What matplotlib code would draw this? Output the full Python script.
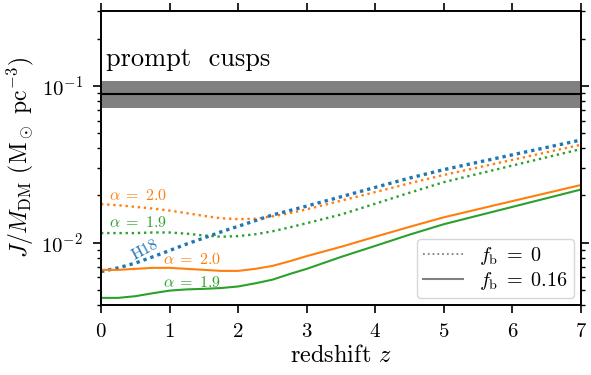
import numpy as np
import matplotlib
matplotlib.use("Agg")
import matplotlib.pyplot as plt
from matplotlib.lines import Line2D

plt.rcParams["font.family"] = "cmr10"
plt.rcParams["mathtext.fontset"] = "cm"
plt.rcParams["axes.formatter.use_mathtext"] = True
plt.rcParams["font.size"] = 15

# redshift grid
z = [0, 0.25, 0.5, 0.75, 1, 1.25, 1.5, 1.75, 2, 2.25, 2.5, 2.75, 3, 3.5, 4, 4.5, 5, 6, 7]

# J/M_DM (Msun pc^-3)
h18 = [0.00653, 0.0069, 0.0074, 0.0081, 0.0089, 0.0098, 0.0107, 0.0117, 0.0127, 0.0138,
       0.0150, 0.0160, 0.0171, 0.0196, 0.0225, 0.0258, 0.0292, 0.0363, 0.0451]
a20_fb0 = [0.0176, 0.0173, 0.0169, 0.0165, 0.0160, 0.0154, 0.0148, 0.0143, 0.0141, 0.0142,
           0.0147, 0.0154, 0.0163, 0.0185, 0.0210, 0.0239, 0.0270, 0.0337, 0.0421]
a19_fb0 = [0.0115, 0.0115, 0.0115, 0.0116, 0.0116, 0.0114, 0.0111, 0.0109, 0.0110, 0.0113,
           0.0118, 0.0125, 0.0133, 0.0151, 0.0177, 0.0208, 0.0243, 0.0310, 0.0395]
a20_fb16 = [0.0067, 0.0067, 0.0068, 0.0069, 0.0069, 0.0068, 0.0067, 0.0066, 0.0066, 0.0068,
            0.0071, 0.0076, 0.0082, 0.0094, 0.0109, 0.0126, 0.0145, 0.0184, 0.0233]
a19_fb16 = [0.00444, 0.00444, 0.00455, 0.00475, 0.00494, 0.00503, 0.00507, 0.00513, 0.00525, 0.0055,
            0.0058, 0.0063, 0.0068, 0.0081, 0.00953, 0.01124, 0.0131, 0.0169, 0.0218]

# prompt cusps band
cusp_mid = 0.0893
cusp_lo, cusp_hi = 0.0724, 0.1076

fig = plt.figure(figsize=(5.91, 3.75), dpi=100)
ax = fig.add_axes([0.1709, 0.1867, 0.8122, 0.784])

ax.fill_between([0, 7], [cusp_lo] * 2, [cusp_hi] * 2, color="gray", lw=0)
ax.plot([0, 7], [cusp_mid] * 2, color="k", lw=1.5)
ax.text(0.08, 0.124, "prompt  cusps", fontsize=19, va="bottom", ha="left")

ax.plot(z, a20_fb0, color="tab:orange", ls=(0, (1, 1.6)), lw=1.7)
ax.plot(z, a19_fb0, color="tab:green", ls=(0, (1, 1.6)), lw=1.7)
ax.plot(z, h18, color="tab:blue", ls=(0, (1, 1.2)), lw=2.4)
ax.plot(z, a20_fb16, color="tab:orange", lw=1.5)
ax.plot(z, a19_fb16, color="tab:green", lw=1.5)

lab = dict(fontsize=11.5, va="center", ha="left")
ax.text(0.11, 0.0199, r"$\alpha\;=\;2.0$", color="tab:orange", **lab)
ax.text(0.11, 0.0134, r"$\alpha\;=\;1.9$", color="tab:green", **lab)
ax.text(0.64, 0.0089, "H18", color="tab:blue", fontsize=11.5, va="center", ha="center", rotation=28)
ax.text(0.9, 0.0078, r"$\alpha\;=\;2.0$", color="tab:orange", **lab)
ax.text(0.9, 0.00558, r"$\alpha\;=\;1.9$", color="tab:green", **lab)

ax.set_yscale("log")
ax.set_xlim(0, 7)
ax.set_ylim(0.004, 0.3)
ax.set_xlabel(r"redshift $z$", fontsize=17.5, labelpad=3)
ax.set_ylabel(r"$J/M_{\rm DM}$ (M$_\odot$ pc$^{-3}$)", fontsize=17, labelpad=4)
ax.tick_params(which="both", direction="out", top=True, right=True)
ax.tick_params(which="major", length=6, width=1.2, pad=7)
ax.tick_params(which="minor", length=3.2, width=1.0)
for s in ax.spines.values():
    s.set_linewidth(1.4)

handles = [Line2D([], [], color="gray", ls=":", lw=1.3),
           Line2D([], [], color="gray", ls="-", lw=1.5)]
ax.legend(handles, [r"$f_{\rm b}\;=\;0$", r"$f_{\rm b}\;=\;0.16$"], loc="lower right",
          fontsize=14.5, labelspacing=0.15, borderpad=0.3, handletextpad=0.8, borderaxespad=0.35)

fig.savefig("out.png", dpi=100)
